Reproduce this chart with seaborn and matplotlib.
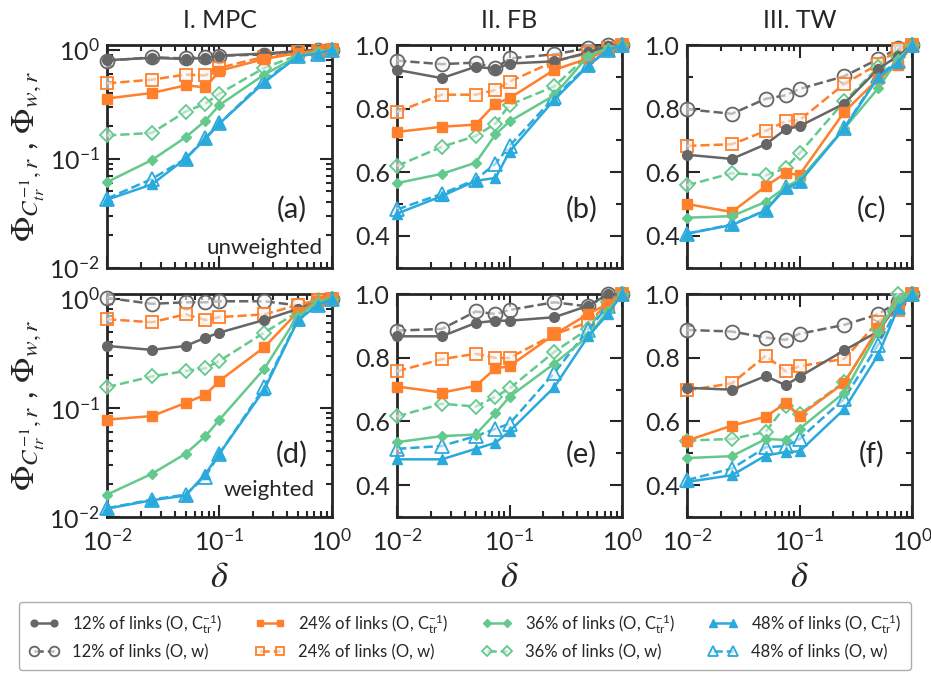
import matplotlib
matplotlib.use("Agg")
import matplotlib.pyplot as plt
import seaborn as sns
from matplotlib.ticker import MultipleLocator, FormatStrFormatter, LogLocator

delta = [0.01, 0.025, 0.05, 0.075, 0.1, 0.25, 0.5, 0.75, 1.0]
shares = [12, 24, 36, 48]
col_titles = ["I. MPC", "II. FB", "III. TW"]
panel_tags = ["(a)", "(b)", "(c)", "(d)", "(e)", "(f)"]

# rows of each list: 12%, 24%, 36%, 48% of links
# (a) MPC unweighted
a_ctr = [[0.80, 0.84, 0.82, 0.84, 0.88, 0.92, 0.97, 0.99, 1.0],
         [0.356, 0.40, 0.47, 0.45, 0.64, 0.82, 0.93, 0.98, 1.0],
         [0.061, 0.097, 0.157, 0.223, 0.31, 0.59, 0.87, 0.96, 1.0],
         [0.042, 0.058, 0.10, 0.152, 0.21, 0.50, 0.87, 0.92, 1.0]]
a_w = [[0.79, 0.85, 0.83, 0.86, 0.88, 0.90, 0.96, 0.99, 1.0],
       [0.49, 0.53, 0.59, 0.58, 0.68, 0.86, 0.95, 0.98, 1.0],
       [0.163, 0.172, 0.27, 0.32, 0.395, 0.68, 0.89, 0.97, 1.0],
       [0.043, 0.065, 0.10, 0.155, 0.21, 0.52, 0.87, 0.92, 1.0]]
# (b) FB unweighted
b_ctr = [[0.922, 0.896, 0.932, 0.925, 0.942, 0.949, 0.977, 0.997, 1.0],
         [0.727, 0.743, 0.75, 0.816, 0.833, 0.922, 0.958, 0.985, 1.0],
         [0.566, 0.595, 0.63, 0.719, 0.76, 0.842, 0.966, 0.99, 1.0],
         [0.47, 0.525, 0.573, 0.582, 0.665, 0.828, 0.935, 0.985, 1.0]]
b_w = [[0.951, 0.94, 0.945, 0.927, 0.958, 0.971, 0.99, 1.0, 1.0],
       [0.79, 0.844, 0.844, 0.859, 0.885, 0.949, 0.974, 0.99, 1.0],
       [0.62, 0.68, 0.714, 0.753, 0.812, 0.87, 0.968, 0.99, 1.0],
       [0.483, 0.532, 0.577, 0.627, 0.683, 0.836, 0.937, 0.985, 1.0]]
# (c) TW unweighted
c_ctr = [[0.655, 0.642, 0.688, 0.735, 0.745, 0.816, 0.925, 0.966, 1.0],
         [0.50, 0.475, 0.556, 0.597, 0.592, 0.79, 0.894, 0.937, 1.0],
         [0.457, 0.462, 0.507, 0.553, 0.577, 0.738, 0.864, 0.956, 1.0],
         [0.407, 0.434, 0.48, 0.549, 0.569, 0.738, 0.899, 0.945, 1.0]]
c_w = [[0.798, 0.784, 0.831, 0.842, 0.862, 0.902, 0.956, 0.99, 1.0],
       [0.683, 0.688, 0.73, 0.76, 0.764, 0.878, 0.94, 0.987, 1.0],
       [0.559, 0.597, 0.59, 0.613, 0.66, 0.823, 0.93, 0.961, 1.0],
       [0.407, 0.436, 0.48, 0.553, 0.573, 0.74, 0.904, 0.95, 1.0]]
# (d) MPC weighted
d_ctr = [[0.37, 0.34, 0.37, 0.44, 0.49, 0.64, 0.81, 0.93, 1.0],
         [0.078, 0.084, 0.111, 0.132, 0.177, 0.36, 0.76, 0.95, 1.0],
         [0.016, 0.0248, 0.038, 0.055, 0.078, 0.228, 0.70, 0.93, 1.0],
         [0.0119, 0.0142, 0.0157, 0.0248, 0.038, 0.147, 0.64, 0.88, 1.0]]
d_w = [[1.02, 0.90, 0.93, 0.93, 0.95, 0.95, 0.87, 0.97, 1.0],
       [0.65, 0.61, 0.72, 0.64, 0.68, 0.72, 0.88, 0.97, 1.0],
       [0.155, 0.194, 0.218, 0.231, 0.27, 0.49, 0.76, 0.93, 1.0],
       [0.012, 0.0144, 0.016, 0.0234, 0.038, 0.154, 0.65, 0.88, 1.0]]
# (e) FB weighted
e_ctr = [[0.868, 0.868, 0.91, 0.917, 0.917, 0.928, 0.964, 1.0, 1.0],
         [0.71, 0.691, 0.712, 0.767, 0.774, 0.874, 0.938, 0.97, 1.0],
         [0.535, 0.554, 0.559, 0.626, 0.678, 0.782, 0.868, 0.949, 1.0],
         [0.481, 0.481, 0.514, 0.533, 0.569, 0.708, 0.868, 0.938, 1.0]]
e_w = [[0.886, 0.891, 0.946, 0.938, 0.951, 0.975, 0.962, 1.0, 1.0],
       [0.758, 0.796, 0.813, 0.80, 0.80, 0.874, 0.912, 0.97, 1.0],
       [0.616, 0.656, 0.647, 0.678, 0.704, 0.819, 0.891, 0.975, 1.0],
       [0.514, 0.523, 0.554, 0.577, 0.593, 0.753, 0.888, 0.964, 1.0]]
# (f) TW weighted
f_ctr = [[0.706, 0.70, 0.743, 0.714, 0.741, 0.824, 0.883, 0.971, 1.0],
         [0.54, 0.587, 0.615, 0.658, 0.618, 0.722, 0.894, 0.971, 1.0],
         [0.485, 0.491, 0.545, 0.542, 0.577, 0.691, 0.883, 0.982, 1.0],
         [0.41, 0.431, 0.493, 0.504, 0.506, 0.639, 0.81, 0.956, 1.0]]
f_w = [[0.888, 0.883, 0.864, 0.857, 0.876, 0.904, 0.937, 0.977, 1.0],
       [0.698, 0.72, 0.807, 0.758, 0.774, 0.797, 0.914, 0.951, 1.0],
       [0.54, 0.545, 0.568, 0.649, 0.623, 0.724, 0.89, 1.0, 1.0],
       [0.416, 0.452, 0.519, 0.523, 0.545, 0.672, 0.842, 0.961, 1.0]]

colors = ["#666666", "#ff7f2a", "#63c98d", "#2aa9dd"]
markers = ["o", "s", "D", "^"]
ms_filled = [7, 6.5, 5.5, 7.5]
ms_open = [10, 9, 7.5, 10]

sns.set_style("ticks")
plt.rcParams["font.family"] = ["Lato", "DejaVu Sans"]
plt.rcParams["mathtext.fontset"] = "stix"

fig, axes = plt.subplots(2, 3, figsize=(9.31, 6.73), dpi=100)
fig.subplots_adjust(left=0.115, right=0.9796, top=0.933, bottom=0.232,
                    wspace=0.29, hspace=0.12)

panels = [(a_ctr, a_w), (b_ctr, b_w), (c_ctr, c_w),
          (d_ctr, d_w), (e_ctr, e_w), (f_ctr, f_w)]

for k, (ctr, w) in enumerate(panels):
    ax = axes[k // 3, k % 3]
    for i in range(4):
        c = colors[i]
        sns.lineplot(x=delta, y=ctr[i], ax=ax, color=c, linestyle="-",
                     linewidth=1.8, marker=markers[i], markersize=ms_filled[i],
                     markerfacecolor=c, markeredgecolor=c, markeredgewidth=1,
                     clip_on=False, zorder=4)
        sns.lineplot(x=delta, y=w[i], ax=ax, color=c, linestyle="--",
                     linewidth=1.8, marker=markers[i], markersize=ms_open[i],
                     markerfacecolor=(0.96, 0.96, 0.96, 0.6), markeredgecolor=c,
                     markeredgewidth=1.3, clip_on=False, zorder=3)
    ax.set_xscale("log")
    ax.set_xlim(0.01, 1.0)
    if k % 3 == 0:
        ax.set_yscale("log")
        ax.set_ylim(0.01, 1.1)
        ax.yaxis.set_major_locator(LogLocator(base=10, numticks=5))
        ax.set_ylabel(r"$\Phi_{C^{-1}_{tr},r}$ , $\Phi_{w,r}$", fontsize=24, labelpad=2)
    else:
        ax.set_ylim(0.3, 1.0)
        ax.yaxis.set_major_locator(MultipleLocator(0.2))
        ax.yaxis.set_minor_locator(MultipleLocator(0.1))
        ax.yaxis.set_major_formatter(FormatStrFormatter("%.1f"))
    ax.tick_params(which="both", direction="in", top=True, right=True,
                   width=1.5, labelsize=18, pad=5)
    ax.tick_params(axis="x", which="both", pad=8)
    ax.tick_params(which="major", length=9)
    ax.tick_params(which="minor", length=4.5)
    for s in ax.spines.values():
        s.set_linewidth(2)
    if k < 3:
        ax.tick_params(labelbottom=False)
        ax.set_title(col_titles[k], fontsize=18, pad=12)
    else:
        ax.set_xlabel(r"$\delta$", fontsize=26, labelpad=4)
    ax.text(0.82, 0.26 if k < 3 else 0.28, panel_tags[k], transform=ax.transAxes,
            fontsize=21, ha="center", va="center")

axes[0, 0].text(0.7, 0.09, "unweighted", transform=axes[0, 0].transAxes,
                fontsize=16, ha="center", va="center")
axes[1, 0].text(0.72, 0.12, "weighted", transform=axes[1, 0].transAxes,
                fontsize=16, ha="center", va="center")

handles = axes[0, 0].get_lines()[:8]
labels = []
for p in shares:
    labels.append(f"{p}% of links (O, " + r"$\mathdefault{C^{-1}_{tr}}$)")
    labels.append(f"{p}% of links (O, w)")

fig.legend(handles, labels, loc="center", ncol=4, mode="expand",
           bbox_to_anchor=(0.011, 0.0, 0.977, 0.11), fontsize=12,
           frameon=True, fancybox=True, edgecolor="#999999", markerscale=0.7,
           numpoints=2, handlelength=1.8, labelspacing=0.5, borderpad=0.6)

fig.savefig("out.png", dpi=100)
